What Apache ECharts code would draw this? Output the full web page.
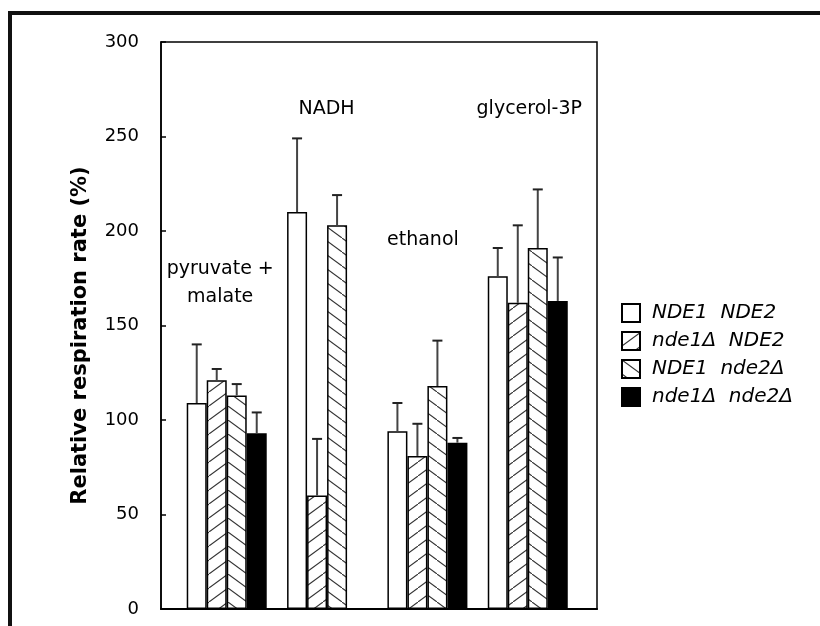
<!DOCTYPE html>
<html>
<head>
<meta charset="utf-8">
<script src="https://cdn.jsdelivr.net/npm/echarts@6/dist/echarts.min.js"></script>
<style>
  html, body { margin: 0; padding: 0; background: #fff; }
  #chart { width: 820px; height: 626px; }
</style>
</head>
<body>
<div id="chart"></div>
<script>
// Substrate groups and strains
const groups = ['pyruvate +\nmalate', 'NADH', 'ethanol', 'glycerol-3P'];
const strains = ['NDE1  NDE2', 'nde1Δ  NDE2', 'NDE1  nde2Δ', 'nde1Δ  nde2Δ'];

// Relative respiration rate (%) per group, and the upper error (SD) per group
const rateWildType = [109, 210, 94, 176];
const errWildType = [31, 39, 15, 15];
const rateNde1 = [121, 60, 81, 162];
const errNde1 = [6, 30, 17, 41];
const rateNde2 = [113, 203, 118, 191];
const errNde2 = [6, 16, 24, 31];
const rateDouble = [93, null, 88, 163];
const errDouble = [11, null, 2.5, 23];

const yTicks = [0, 50, 100, 150, 200, 250, 300];

// Where each group caption sits, in axis units (x: group slot, y: rate)
const captionAnchors = [[0.94, 172], [2.0, 264], [2.96, 195], [4.02, 264]];

const BAR_W = 20;
const CAP = 5;
const FONT = '"DejaVu Sans", Verdana, sans-serif';

function hatch(dir) {
  const c = document.createElement('canvas');
  const w = 19, h = 14;
  c.width = w; c.height = h;
  const ctx = c.getContext('2d');
  ctx.fillStyle = '#fff';
  ctx.fillRect(0, 0, w, h);
  ctx.strokeStyle = '#333';
  ctx.lineWidth = 1.1;
  ctx.beginPath();
  if (dir === '/') { ctx.moveTo(-w, 2 * h); ctx.lineTo(2 * w, -h); }
  else { ctx.moveTo(-w, -h); ctx.lineTo(2 * w, 2 * h); }
  ctx.stroke();
  return { image: c, repeat: 'repeat' };
}

const fills = ['#ffffff', hatch('/'), hatch('\\'), '#000000'];
const rates = [rateWildType, rateNde1, rateNde2, rateDouble];
const errs = [errWildType, errNde1, errNde2, errDouble];

const barSeries = rates.map((vals, s) => ({
  type: 'bar',
  name: strains[s],
  barWidth: BAR_W,
  barGap: '0%',
  itemStyle: { color: fills[s], borderColor: '#000', borderWidth: 1.5 },
  data: vals.map((v, i) => [i + 1, v]).filter(d => d[1] != null),
  z: 2
}));

const errorSeries = rates.map((vals, s) => ({
  type: 'custom',
  data: vals.map((v, i) => [i + 1, v, v == null ? null : v + errs[s][i]]).filter(d => d[1] != null),
  renderItem(params, api) {
    const base = api.coord([api.value(0), api.value(1)]);
    const top = api.coord([api.value(0), api.value(2)]);
    const x = base[0] + (s - 1.5) * BAR_W;
    return {
      type: 'group',
      children: [
        { type: 'line', shape: { x1: x, y1: base[1], x2: x, y2: top[1] }, style: { stroke: '#444', lineWidth: 2 } },
        { type: 'line', shape: { x1: x - CAP, y1: top[1], x2: x + CAP, y2: top[1] }, style: { stroke: '#222', lineWidth: 2 } }
      ]
    };
  },
  z: 3
}));

const captionSeries = {
  type: 'scatter',
  symbolSize: 1,
  itemStyle: { color: 'rgba(255,255,255,0)', opacity: 1 },
  data: captionAnchors.map((p, i) => ({ value: p, name: groups[i] })),
  label: {
    show: true,
    position: [0, 0],
    align: 'center',
    verticalAlign: 'middle',
    formatter: p => p.name,
    color: '#000000',
    opacity: 1,
    fontFamily: FONT,
    fontSize: 19,
    lineHeight: 28
  },
  z: 4
};

const chart = echarts.init(document.getElementById('chart'), null, { renderer: 'canvas' });
chart.setOption({
  animation: false,
  backgroundColor: '#fff',
  graphic: [{
    type: 'rect',
    shape: { x: 10, y: 13, width: 900, height: 700 },
    style: { fill: 'none', stroke: '#111', lineWidth: 4 },
    silent: true
  }],
  grid: {
    left: 161, top: 42, width: 436, height: 567,
    show: true, borderColor: '#000', borderWidth: 1.5, backgroundColor: 'transparent'
  },
  legend: {
    orient: 'vertical',
    left: 621, top: 303, padding: 0,
    itemWidth: 18, itemHeight: 18, itemGap: 8,
    icon: 'rect',
    data: strains,
    textStyle: { fontFamily: FONT, fontSize: 20, fontStyle: 'italic', color: '#000', padding: [0, 0, 0, 7] }
  },
  xAxis: {
    type: 'value', min: 0.345, max: 4.69,
    axisLine: { show: true, lineStyle: { color: '#000', width: 2 } },
    axisTick: { show: false }, axisLabel: { show: false }, splitLine: { show: false }
  },
  yAxis: {
    type: 'value', min: yTicks[0], max: yTicks[yTicks.length - 1], interval: 50,
    name: 'Relative respiration rate (%)',
    nameLocation: 'middle', nameGap: 70,
    nameTextStyle: { fontFamily: FONT, fontSize: 21, fontWeight: 'bold', color: '#000', padding: [0, 20, 0, 0] },
    axisLine: { show: true, lineStyle: { color: '#000', width: 1.5 } },
    axisTick: { show: true, inside: true, length: 5, lineStyle: { color: '#000', width: 1.5 } },
    axisLabel: { fontFamily: FONT, fontSize: 18, color: '#000', margin: 22 },
    splitLine: { show: false }
  },
  series: [...barSeries, ...errorSeries, captionSeries]
});
</script>
</body>
</html>
